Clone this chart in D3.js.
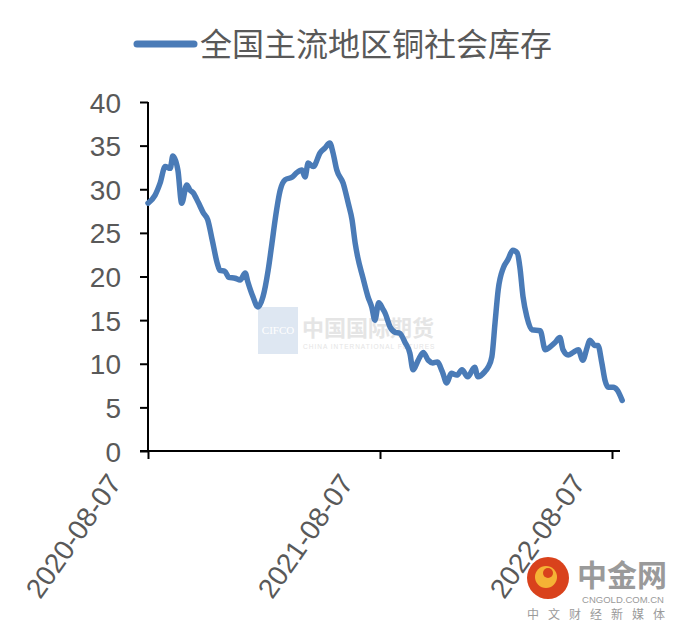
<!DOCTYPE html>
<html>
<head>
<meta charset="utf-8">
<script src="https://d3js.org/d3.v7.min.js"></script>
<style>
  body { margin: 0; background: #fff; }
  svg { display: block; }
</style>
</head>
<body>
<div id="chart"></div>
<script>
// series (10k t)
var seriesName = "全国主流地区铜社会库存";
var dates = ["2020-08-07","2020-08-18","2020-08-26","2020-09-03","2020-09-11","2020-09-15","2020-09-23","2020-09-29",
  "2020-10-07","2020-10-12","2020-10-17","2020-10-25","2020-11-02","2020-11-09","2020-11-16","2020-11-24","2020-11-28",
  "2020-12-06","2020-12-12","2020-12-22","2020-12-30","2021-01-07","2021-01-11","2021-01-19","2021-01-27","2021-02-04",
  "2021-02-12","2021-02-18","2021-02-23","2021-03-03","2021-03-11","2021-03-22","2021-03-29","2021-04-06","2021-04-11",
  "2021-04-16","2021-04-24","2021-05-05","2021-05-12","2021-05-20","2021-05-25","2021-05-31","2021-06-10","2021-06-18",
  "2021-06-24","2021-06-29","2021-07-03","2021-07-11","2021-07-19","2021-07-25","2021-07-30","2021-08-05","2021-08-12",
  "2021-08-15","2021-08-23","2021-08-31","2021-09-07","2021-09-15","2021-09-23","2021-09-28","2021-10-06","2021-10-14",
  "2021-10-22","2021-10-29","2021-11-05","2021-11-13","2021-11-20","2021-11-27","2021-12-06","2021-12-14","2021-12-23",
  "2022-01-03","2022-01-08","2022-01-19","2022-01-24","2022-01-30","2022-02-04","2022-02-09","2022-02-17","2022-02-24",
  "2022-03-04","2022-03-11","2022-03-15","2022-03-20","2022-03-26","2022-04-03","2022-04-16","2022-04-24","2022-05-01",
  "2022-05-09","2022-05-17","2022-05-22","2022-05-30","2022-06-07","2022-06-15","2022-06-22","2022-06-29","2022-07-03",
  "2022-07-11","2022-07-16","2022-07-22","2022-07-27","2022-08-01","2022-08-09","2022-08-15","2022-08-23"];
var stock = [28.4,29.3,30.7,32.6,32.4,33.8,32.2,28.4,
  30.5,29.9,29.6,28.5,27.3,26.5,24.2,21.5,20.7,
  20.6,19.9,19.8,19.6,20.4,19.4,17.7,16.5,17.7,
  20.7,23.8,26.5,29.9,31.1,31.4,31.9,32.2,31.4,
  33.0,32.6,34.2,34.7,35.3,34.2,32.2,30.7,28.4,
  26.5,23.8,22.2,19.9,17.7,16.5,15.0,17.0,16.2,
  15.8,14.2,13.6,13.5,12.5,11.2,9.3,10.4,11.3,
  10.4,10.1,10.2,9.1,7.8,8.9,8.7,9.3,8.5,
  9.6,8.5,9.1,9.6,10.8,14.7,18.5,21.0,21.9,
  23.0,22.7,21.1,17.7,15.4,13.9,13.8,11.6,11.9,
  12.4,13.0,11.6,11.0,11.3,11.6,10.4,11.9,12.7,
  12.1,12.1,10.1,8.1,7.3,7.3,7.0,5.8];
var xTicks = ["2020-08-07","2021-08-07","2022-08-07"];
var yTicks = [0,5,10,15,20,25,30,35,40];

var W = 680, H = 630;
var lineColor = "#4a7bb7";
var textColor = "#595959";
var parse = d3.timeParse("%Y-%m-%d");

var data = dates.map(function(d, i){ return {date: parse(d), v: stock[i]}; });

var svg = d3.select("#chart").append("svg")
    .attr("width", W).attr("height", H);

var x = d3.scaleTime()
    .domain([parse(xTicks[0]), parse(xTicks[2])])
    .range([148, 612]);
var y = d3.scaleLinear()
    .domain([0, 40])
    .range([451, 102]);

// watermark (centre)
var wm = svg.append("g").attr("opacity", 0.9);
wm.append("rect").attr("x", 258).attr("y", 307).attr("width", 40).attr("height", 47)
    .attr("fill", "#dbe5f1");
wm.append("text").attr("x", 278).attr("y", 334).attr("text-anchor", "middle")
    .attr("font-family", "Liberation Serif, serif").attr("font-size", 11)
    .attr("fill", "#fff").text("CIFCO");
wm.append("text").attr("x", 302).attr("y", 336)
    .attr("font-family", "Noto Sans CJK SC").attr("font-size", 22).attr("font-weight", 700)
    .attr("fill", "#e3e3e3").text("中国国际期货");
wm.append("text").attr("x", 303).attr("y", 349)
    .attr("font-family", "Liberation Sans").attr("font-size", 6.5).attr("letter-spacing", 1)
    .attr("fill", "#e3e3e3").text("CHINA INTERNATIONAL FUTURES");

// axes
var yAxis = d3.axisLeft(y).tickValues(yTicks).tickSize(8).tickPadding(19);
var xAxis = d3.axisBottom(x).tickValues(xTicks.map(parse)).tickSize(8)
    .tickFormat(d3.timeFormat("%Y-%m-%d"));

var gY = svg.append("g").attr("transform", "translate(148,0)").call(yAxis);
var gX = svg.append("g").attr("transform", "translate(0,451)").call(xAxis);

[gY, gX].forEach(function(g){
  g.select(".domain").attr("stroke", "#000").attr("stroke-width", 2);
  g.selectAll(".tick line").attr("stroke", "#000").attr("stroke-width", 2);
  g.selectAll("text").attr("fill", textColor)
    .attr("font-family", "Liberation Sans, Arial, sans-serif")
    .attr("font-size", 28);
});
// extend axes a little past their ends like the original
gX.select(".domain").attr("d", "M140,0H620");
gY.select(".domain").attr("d", "M0,102V451");
gY.selectAll("text").attr("dy", "0.36em");

gX.selectAll("text")
    .attr("text-anchor", "end")
    .attr("dy", null)
    .attr("y", 0)
    .attr("transform", "translate(-26,32) rotate(-55)");

// series line
var line = d3.line()
    .x(function(d){ return x(d.date); })
    .y(function(d){ return y(d.v); })
    .curve(d3.curveMonotoneX);

svg.append("path").datum(data)
    .attr("d", line)
    .attr("fill", "none")
    .attr("stroke", lineColor)
    .attr("stroke-width", 5.5)
    .attr("stroke-linejoin", "round")
    .attr("stroke-linecap", "round");

// legend
var lg = svg.append("g");
lg.append("line").attr("x1", 137).attr("x2", 194).attr("y1", 44).attr("y2", 44)
    .attr("stroke", lineColor).attr("stroke-width", 7).attr("stroke-linecap", "round");
lg.append("text").attr("x", 200).attr("y", 56)
    .attr("font-family", "Noto Sans CJK SC, sans-serif").attr("font-size", 32)
    .attr("fill", textColor).text(seriesName);

// logo (bottom right)
var logo = svg.append("g");
logo.append("circle").attr("cx", 548).attr("cy", 578).attr("r", 21).attr("fill", "#d9421c");
logo.append("circle").attr("cx", 546).attr("cy", 577).attr("r", 11).attr("fill", "#f5b335");
logo.append("circle").attr("cx", 548).attr("cy", 573).attr("r", 5).attr("fill", "#d9421c");
logo.append("text").attr("x", 577).attr("y", 586)
    .attr("font-family", "Noto Sans CJK SC").attr("font-size", 30).attr("font-weight", 700)
    .attr("fill", "#9a9a9a").text("中金网");
logo.append("text").attr("x", 623).attr("y", 603).attr("text-anchor", "middle")
    .attr("font-family", "Liberation Sans").attr("font-size", 9.5)
    .attr("fill", "#9a9a9a").text("CNGOLD.COM.CN");
logo.append("text").attr("x", 527).attr("y", 619)
    .attr("font-family", "Noto Sans CJK SC").attr("font-size", 12).attr("letter-spacing", 9)
    .attr("fill", "#9a9a9a").text("中文财经新媒体");
</script>
</body>
</html>
